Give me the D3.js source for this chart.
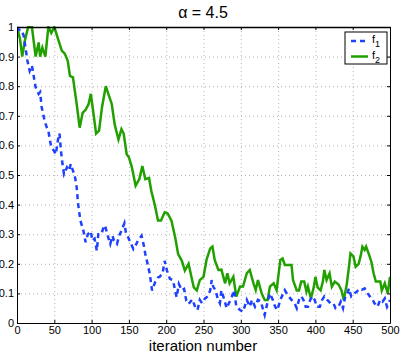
<!doctype html>
<html>
  <head>
    <meta charset="utf-8">
    <title>alpha = 4.5</title>
    <script src="https://cdn.jsdelivr.net/npm/d3@7"></script>
    <style>
      html, body { margin:0; padding:0; background:#fff; overflow:hidden }
      svg { font-family: "Liberation Sans", Arial, sans-serif; }
      .grid line { stroke:#b4b4b4; stroke-dasharray:1,3; }
      .axis path, .axis line { stroke:#000; }
      .axis text { font-size:11px; fill:#000; }
    </style>
  </head>
  <body>
    <div id="chart"></div>
    <script>
      var xTicks = [0, 50, 100, 150, 200, 250, 300, 350, 400, 450, 500];
      var yTicks = [0, 0.1, 0.2, 0.3, 0.4, 0.5, 0.6, 0.7, 0.8, 0.9, 1];

      // f1 (blue dashed)
      var f1Iter = [0, 3, 6, 9, 14, 17, 20, 22, 25, 29, 31, 33, 37, 40, 42, 44, 46, 50, 52, 55, 57, 59, 61, 63,
        67, 70, 72, 75, 78, 80, 82, 85, 89, 92, 95, 99, 101, 104, 107, 109, 113, 116, 118, 121, 125, 128, 130,
        134, 137, 140, 144, 146, 149, 153, 156, 160, 162, 167, 170, 172, 175, 178, 181, 185, 189, 191, 195, 198,
        201, 205, 209, 212, 214, 217, 221, 224, 227, 230, 235, 239, 242, 245, 248, 252, 256, 259, 261, 263, 266,
        269, 272, 274, 278, 281, 285, 288, 291, 294, 299, 303, 308, 312, 315, 319, 323, 327, 330, 332, 336, 339,
        343, 346, 349, 353, 356, 359, 364, 368, 372, 375, 378, 381, 384, 387, 390, 393, 396, 399, 402, 406, 409,
        412, 416, 420, 424, 427, 431, 434, 437, 440, 443, 445, 448, 452, 455, 459, 462, 466, 470, 473, 477, 479,
        483, 487, 490, 493, 496, 500];
      var f1 = [1.0, 0.99, 0.99, 0.97, 0.886, 0.852, 0.87, 0.84, 0.796, 0.774, 0.78, 0.73, 0.683, 0.66, 0.65, 0.62,
        0.594, 0.58, 0.57, 0.62, 0.64, 0.58, 0.537, 0.503, 0.526, 0.515, 0.537, 0.515, 0.49, 0.458, 0.40, 0.346,
        0.312, 0.273, 0.30, 0.31, 0.278, 0.285, 0.244, 0.30, 0.30, 0.323, 0.33, 0.30, 0.267, 0.295, 0.278, 0.267,
        0.295, 0.312, 0.337, 0.305, 0.29, 0.267, 0.25, 0.267, 0.278, 0.295, 0.262, 0.233, 0.2, 0.166, 0.11, 0.137,
        0.154, 0.156, 0.166, 0.21, 0.177, 0.149, 0.145, 0.11, 0.087, 0.132, 0.11, 0.115, 0.075, 0.064, 0.08, 0.053,
        0.044, 0.078, 0.067, 0.083, 0.09, 0.111, 0.145, 0.123, 0.111, 0.083, 0.067, 0.11, 0.078, 0.05, 0.072, 0.09,
        0.111, 0.055, 0.044, 0.038, 0.078, 0.055, 0.078, 0.055, 0.078, 0.072, 0.044, 0.027, 0.072, 0.1, 0.078, 0.055,
        0.044, 0.078, 0.095, 0.111, 0.09, 0.078, 0.067, 0.05, 0.078, 0.09, 0.078, 0.055, 0.055, 0.078, 0.09, 0.078,
        0.055, 0.055, 0.078, 0.09, 0.078, 0.067, 0.067, 0.05, 0.055, 0.072, 0.05, 0.09, 0.1, 0.117, 0.09, 0.1, 0.105,
        0.115, 0.112, 0.117, 0.1, 0.09, 0.078, 0.067, 0.055, 0.078, 0.072, 0.083, 0.055, 0.078];

      // f2 (green solid)
      var f2Iter = [0, 4, 7, 11, 15, 20, 25, 29, 31, 34, 38, 42, 46, 50, 55, 60, 64, 68, 71, 75, 80, 84, 88, 92,
        96, 99, 102, 106, 110, 114, 119, 123, 127, 131, 136, 140, 143, 147, 150, 154, 159, 164, 168, 172, 177,
        180, 185, 189, 193, 198, 202, 207, 212, 216, 221, 225, 230, 234, 237, 241, 245, 250, 254, 259, 262, 265,
        270, 274, 279, 282, 285, 290, 294, 299, 303, 308, 312, 317, 320, 323, 328, 332, 336, 339, 344, 348, 353,
        356, 359, 368, 370, 375, 378, 381, 385, 388, 390, 394, 398, 400, 403, 407, 410, 412, 415, 419, 422, 426,
        431, 435, 438, 442, 445, 447, 451, 454, 458, 461, 463, 466, 468, 472, 475, 478, 481, 487, 489, 493, 497, 500];
      var f2 = [1.0, 0.96, 0.90, 0.96, 1.0, 1.0, 0.90, 0.948, 0.90, 0.93, 0.90, 1.0, 0.98, 1.0, 0.96, 0.92, 0.91,
        0.886, 0.835, 0.83, 0.74, 0.66, 0.71, 0.72, 0.74, 0.774, 0.717, 0.64, 0.65, 0.73, 0.80, 0.77, 0.74, 0.67,
        0.62, 0.655, 0.64, 0.57, 0.56, 0.526, 0.464, 0.486, 0.53, 0.486, 0.49, 0.447, 0.396, 0.346, 0.346, 0.374,
        0.37, 0.346, 0.29, 0.233, 0.21, 0.177, 0.2, 0.154, 0.12, 0.11, 0.145, 0.156, 0.213, 0.252, 0.258, 0.213,
        0.179, 0.18, 0.134, 0.168, 0.134, 0.156, 0.089, 0.123, 0.123, 0.168, 0.179, 0.134, 0.111, 0.145, 0.1, 0.078,
        0.078, 0.123, 0.134, 0.111, 0.213, 0.218, 0.196, 0.196, 0.145, 0.11, 0.11, 0.14, 0.14, 0.106, 0.123, 0.083,
        0.123, 0.156, 0.12, 0.11, 0.14, 0.179, 0.145, 0.168, 0.123, 0.14, 0.13, 0.11, 0.078, 0.13, 0.19, 0.235, 0.225,
        0.19, 0.2, 0.23, 0.258, 0.247, 0.258, 0.23, 0.207, 0.168, 0.14, 0.14, 0.11, 0.134, 0.1, 0.156];

      var W = 402, H = 354;
      var m = {left: 17, right: 12, top: 27, bottom: 31};

      var svg = d3.select("#chart").append("svg")
        .attr("width", W).attr("height", H);

      var x = d3.scaleLinear().domain([0, 500]).range([m.left, W - m.right]);
      var y = d3.scaleLinear().domain([0, 1]).range([H - m.bottom, m.top]);

      // grid
      var grid = svg.append("g").attr("class", "grid");
      grid.selectAll(".gx").data(xTicks.slice(1, -1)).enter().append("line")
        .attr("x1", d => x(d) + 0.5).attr("x2", d => x(d) + 0.5)
        .attr("y1", y(1)).attr("y2", y(0));
      grid.selectAll(".gy").data(yTicks.slice(1, -1)).enter().append("line")
        .attr("y1", d => y(d) + 0.5).attr("y2", d => y(d) + 0.5)
        .attr("x1", x(0)).attr("x2", x(500));

      svg.append("clipPath").attr("id", "clip").append("rect")
        .attr("x", x(0)).attr("y", y(1) - 1).attr("width", x(500) - x(0)).attr("height", y(0) - y(1) + 1);

      var line = d3.line().x(d => x(d[0])).y(d => y(d[1]));

      svg.append("path")
        .datum(f2Iter.map((t, i) => [t, f2[i]]))
        .attr("clip-path", "url(#clip)")
        .attr("d", line)
        .attr("fill", "none").attr("stroke", "#22a000").attr("stroke-width", 2.5);

      svg.append("path")
        .datum(f1Iter.map((t, i) => [t, f1[i]]))
        .attr("clip-path", "url(#clip)")
        .attr("d", line)
        .attr("fill", "none").attr("stroke", "#2040ff").attr("stroke-width", 2.5)
        .attr("stroke-dasharray", "5,4");

      // axes, MATLAB style: ticks inside, box all round
      svg.append("g").attr("class", "axis")
        .attr("transform", "translate(0," + y(0) + ")")
        .call(d3.axisBottom(x).tickValues(xTicks).tickSizeInner(-3).tickSizeOuter(0).tickPadding(3));
      svg.append("g").attr("class", "axis")
        .attr("transform", "translate(" + x(0) + ",0)")
        .call(d3.axisLeft(y).tickValues(yTicks).tickFormat(d3.format("~g")).tickSizeInner(-3).tickSizeOuter(0).tickPadding(3));
      svg.append("g").attr("class", "axis")
        .attr("transform", "translate(0," + y(1) + ")")
        .call(d3.axisTop(x).tickValues(xTicks).tickSizeInner(-3).tickSizeOuter(0).tickFormat(""))
        .select("path").attr("stroke", "#777").attr("stroke-width", 1.5);
      svg.append("g").attr("class", "axis")
        .attr("transform", "translate(" + x(500) + ",0)")
        .call(d3.axisRight(y).tickValues(yTicks).tickSizeInner(-3).tickSizeOuter(0).tickFormat(""));

      // title and label
      svg.append("text").attr("x", 203).attr("y", 18).attr("text-anchor", "middle")
        .attr("font-size", "16px").text("\u03b1 = 4.5");
      svg.append("text").attr("x", 203).attr("y", 351).attr("text-anchor", "middle")
        .attr("font-size", "15px").text("iteration number");

      // legend
      var lg = svg.append("g").attr("transform", "translate(345,32)");
      lg.append("rect").attr("width", 42).attr("height", 32)
        .attr("fill", "#fff").attr("stroke", "#000");
      lg.append("line").attr("x1", 6).attr("x2", 21).attr("y1", 9).attr("y2", 9)
        .attr("stroke", "#2040ff").attr("stroke-width", 2.5).attr("stroke-dasharray", "5,4");
      lg.append("line").attr("x1", 6).attr("x2", 23).attr("y1", 24.5).attr("y2", 24.5)
        .attr("stroke", "#22a000").attr("stroke-width", 2.5);
      [["1", 11], ["2", 27]].forEach(function (d) {
        var t = lg.append("text").attr("x", 27).attr("y", d[1]).attr("font-size", "11px").text("f");
        t.append("tspan").attr("dy", 4).attr("font-size", "9px").text(d[0]);
      });
    </script>
  </body>
</html>
